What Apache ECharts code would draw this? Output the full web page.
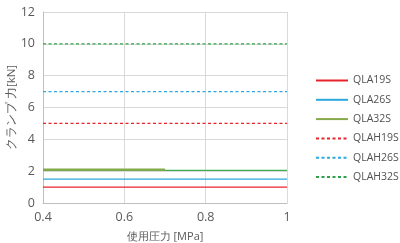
<!DOCTYPE html>
<html><head><meta charset="utf-8">
<script src="https://cdn.jsdelivr.net/npm/echarts@6/dist/echarts.min.js"></script>
<style>html,body{margin:0;padding:0;background:#fff}#c{width:400px;height:243px}</style>
</head><body><div id="c"></div>
<script>
const xTicks = [0.4, 0.6, 0.8, 1];
const yTicks = [0, 2, 4, 6, 8, 10, 12];
const seriesNames = ['QLA19S','QLA26S','QLA32S','QLAH19S','QLAH26S','QLAH32S'];
const QLA19S = [[0.4,1],[1,1]];
const QLA26S = [[0.4,1.5],[1,1.5]];
const QLA32S = [[0.4,2.1],[0.7,2.1]];
const QLA32S_ext = [[0.4,2.05],[1,2.05]];
const QLAH19S = [[0.4,5],[1,5]];
const QLAH26S = [[0.4,7],[1,7]];
const QLAH32S = [[0.4,10],[1,10]];
const colors = ['#e8232b','#2aa8df','#9bbb59','#e8232b','#2aa8df','#2ea24a'];
const font = 'Open Sans, Noto Sans, sans-serif';
const chart = echarts.init(document.getElementById('c'));
function ln(name, data, color, dashed, width){
  return {name, type:'line', data, symbol:'none', silent:true,
    lineStyle:{color, width:width||1.3, type: dashed?[3,2.5]:'solid'}, itemStyle:{color}};
}
chart.setOption({
  animation:false,
  grid:{left:43,right:113,top:12,bottom:40,containLabel:false,outerBoundsMode:'none'},
  legend:{
    data:seriesNames, orient:'vertical', left:310, top:70,
    itemWidth:32, itemHeight:10, itemGap:8.3,
    itemStyle:{opacity:0},
    textStyle:{fontFamily:font,fontSize:10.5,color:'#505050'}
  },
  xAxis:{type:'value',min:0.4,max:1,interval:0.2,
    name:'使用圧力 [MPa]',nameLocation:'middle',nameGap:28,nameMoveOverlap:false,
    nameTextStyle:{fontFamily:font,fontSize:11,color:'#595959'},
    axisLine:{show:true,lineStyle:{color:'#bfbfbf'}},axisTick:{show:false},
    axisLabel:{fontFamily:font,fontSize:12.5,color:'#595959',margin:8,
      formatter:v=>{const t=xTicks.find(x=>Math.abs(x-v)<1e-6);return t===undefined?'':String(t);}},
    splitLine:{show:true,lineStyle:{color:'#d9d9d9'}}},
  yAxis:{type:'value',min:0,max:12,interval:2,
    name:'クランプ 力[kN]',nameLocation:'middle',nameGap:25,nameMoveOverlap:false,
    nameTextStyle:{fontFamily:font,fontSize:11.5,color:'#595959'},
    axisLine:{show:true,lineStyle:{color:'#bfbfbf'}},axisTick:{show:false},
    axisLabel:{fontFamily:font,fontSize:12.5,color:'#595959',margin:8,
      formatter:v=>yTicks.includes(v)?String(v):''},
    splitLine:{show:true,lineStyle:{color:'#d9d9d9'}}},
  series:[
    ln('QLA32S_ext', QLA32S_ext, '#3fae4f', false, 1.3),
    ln('QLA19S', QLA19S, colors[0], false),
    ln('QLA26S', QLA26S, colors[1], false),
    Object.assign(ln('QLA32S', QLA32S, '#86a94a', false, 2.2), {itemStyle:{color:'#9bbb59'}}),
    ln('QLAH19S', QLAH19S, colors[3], true, 1.4),
    ln('QLAH26S', QLAH26S, colors[4], true, 1.4),
    ln('QLAH32S', QLAH32S, colors[5], true, 1.4)
  ]
});
</script></body></html>
